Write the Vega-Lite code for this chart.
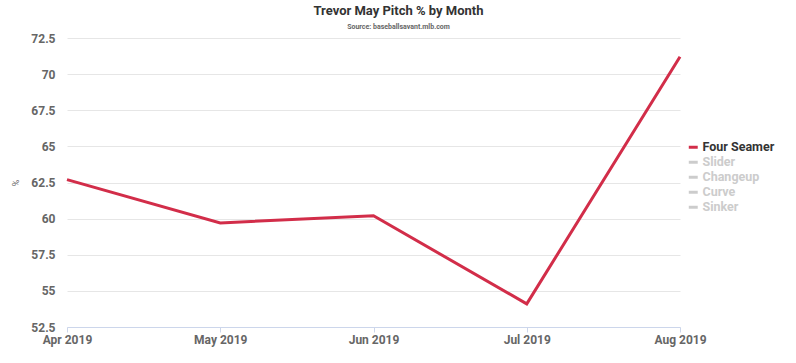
{
  "$schema": "https://vega.github.io/schema/vega-lite/v6.json",
  "width": 613,
  "height": 289,
  "autosize": {"type": "none"},
  "padding": {"left": 67, "top": 38, "right": 116, "bottom": 36},
  "background": "white",
  "title": {
    "text": "Trevor May Pitch % by Month",
    "subtitle": "Source: baseballsavant.mlb.com",
    "anchor": "middle",
    "dx": 25,
    "offset": 2,
    "font": "Roboto",
    "fontSize": 13,
    "fontWeight": "bold",
    "color": "#333333",
    "subtitleFont": "Roboto",
    "subtitleFontSize": 7,
    "subtitleFontWeight": "bold",
    "subtitleColor": "#666666",
    "subtitlePadding": 5
  },
  "data": {
    "values": [
      {"month": "Apr 2019", "pitch": "Four Seamer", "pct": 62.7},
      {"month": "May 2019", "pitch": "Four Seamer", "pct": 59.7},
      {"month": "Jun 2019", "pitch": "Four Seamer", "pct": 60.2},
      {"month": "Jul 2019", "pitch": "Four Seamer", "pct": 54.1},
      {"month": "Aug 2019", "pitch": "Four Seamer", "pct": 71.2}
    ]
  },
  "config": {
    "view": {"stroke": null},
    "font": "Roboto"
  },
  "mark": {"type": "line", "strokeWidth": 3, "clip": false},
  "encoding": {
    "x": {
      "field": "month",
      "type": "ordinal",
      "sort": null,
      "scale": {"type": "point", "padding": 0},
      "axis": {
        "title": null,
        "labelAngle": 0,
        "labelFont": "Roboto",
        "labelFontSize": 12,
        "labelFontWeight": "bold",
        "labelColor": "#666666",
        "labelPadding": 2,
        "domainColor": "#ccd6eb",
        "tickColor": "#ccd6eb",
        "tickSize": 5,
        "grid": false
      }
    },
    "y": {
      "field": "pct",
      "type": "quantitative",
      "scale": {"domain": [52.5, 72.5], "zero": false, "nice": false},
      "axis": {
        "title": "%",
        "titleFontSize": 9,
        "titleFontWeight": "normal",
        "titleColor": "#666666",
        "titlePadding": 10,
        "values": [52.5, 55, 57.5, 60, 62.5, 65, 67.5, 70, 72.5],
        "format": ".1~f",
        "labelFont": "Roboto",
        "labelFontSize": 12,
        "labelFontWeight": "bold",
        "labelColor": "#666666",
        "labelPadding": 12,
        "ticks": false,
        "domain": false,
        "gridColor": "#e6e6e6",
        "gridWidth": 1
      }
    },
    "color": {
      "field": "pitch",
      "type": "nominal",
      "scale": {
        "domain": ["Four Seamer", "Slider", "Changeup", "Curve", "Sinker"],
        "range": ["#d22d49", "#cccccc", "#cccccc", "#cccccc", "#cccccc"]
      },
      "legend": {
        "title": null,
        "orient": "none",
        "legendX": 620,
        "legendY": 103,
        "symbolType": "stroke",
        "symbolStrokeWidth": 3,
        "symbolSize": 80,
        "labelFont": "Roboto",
        "labelFontSize": 12.5,
        "labelFontWeight": "bold",
        "rowPadding": 2,
        "labelOffset": 3,
        "encode": {
          "labels": {
            "update": {
              "fill": [
                {"test": "datum.value === 'Four Seamer'", "value": "#333333"},
                {"value": "#cccccc"}
              ]
            }
          }
        }
      }
    }
  }
}
